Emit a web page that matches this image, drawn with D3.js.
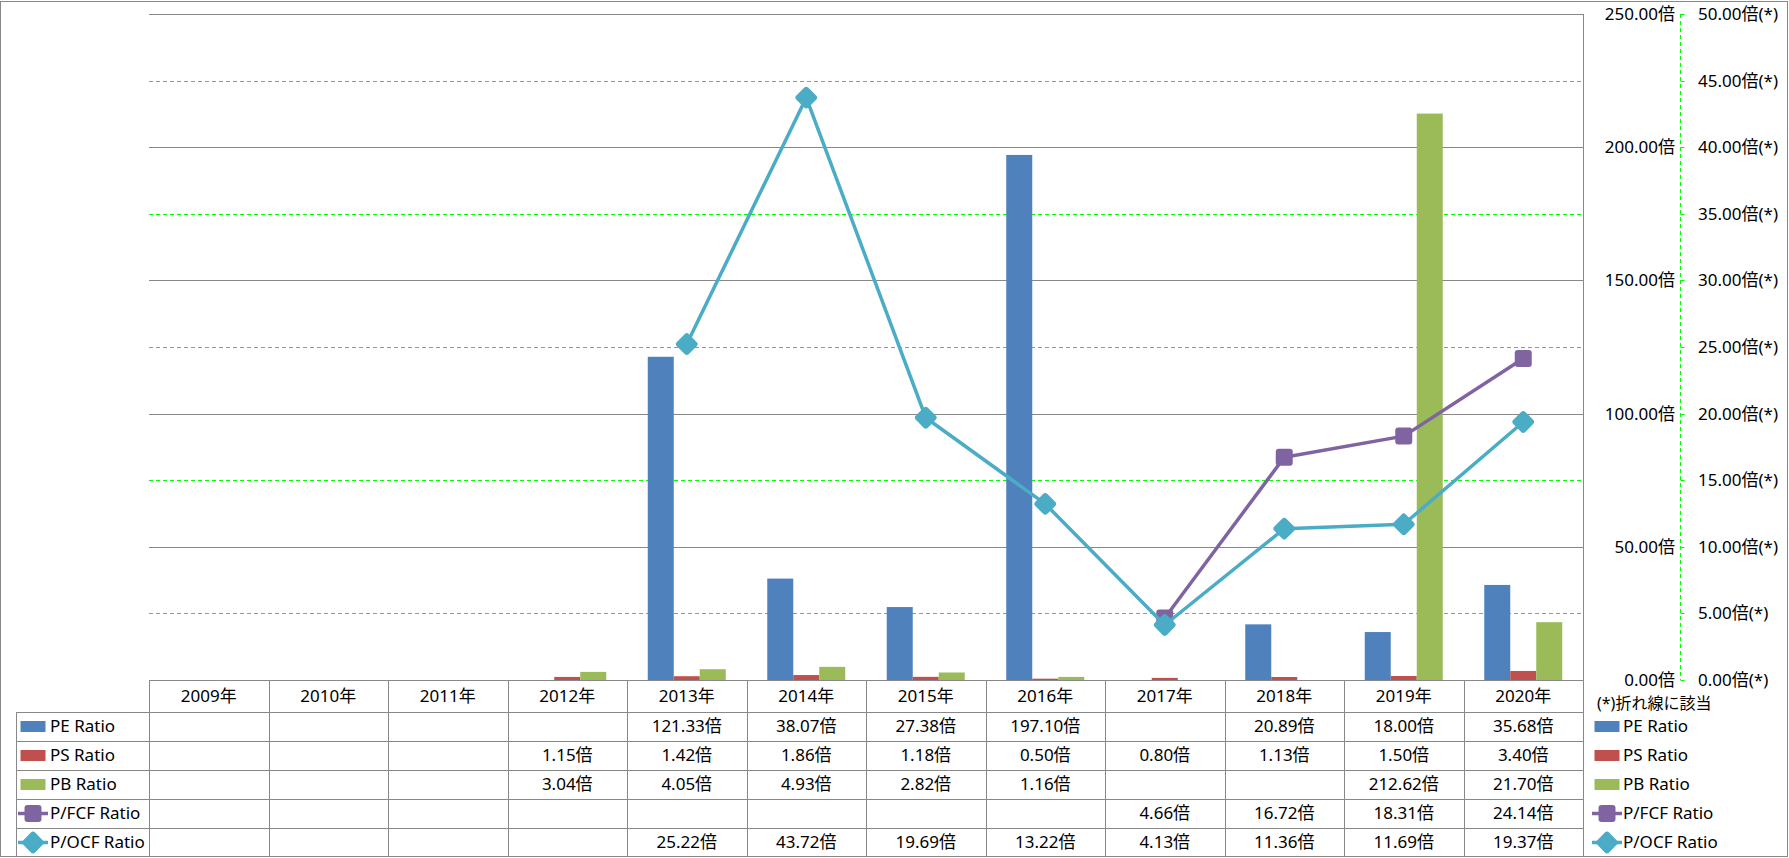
<!DOCTYPE html>
<html>
<head>
<meta charset="utf-8">
<script src="https://cdn.jsdelivr.net/npm/d3@7"></script>
<style>
  body { margin: 0; background: #fff; }
  svg { display: block; font-family: "Noto Sans", "Noto Sans CJK JP", sans-serif; }
</style>
</head>
<body>
<div id="viz"></div>
<script>
const years = ['2009年', '2010年', '2011年', '2012年', '2013年', '2014年', '2015年', '2016年', '2017年', '2018年', '2019年', '2020年'];
const peRatio = [null, null, null, null, 121.33, 38.07, 27.38, 197.10, null, 20.89, 18.00, 35.68];
const psRatio = [null, null, null, 1.15, 1.42, 1.86, 1.18, 0.50, 0.80, 1.13, 1.50, 3.40];
const pbRatio = [null, null, null, 3.04, 4.05, 4.93, 2.82, 1.16, null, null, 212.62, 21.70];
const pfcfRatio = [null, null, null, null, null, null, null, null, 4.66, 16.72, 18.31, 24.14];
const pocfRatio = [null, null, null, null, 25.22, 43.72, 19.69, 13.22, 4.13, 11.36, 11.69, 19.37];
const leftTicks = [0, 50, 100, 150, 200, 250];
const rightTicks = [0, 5, 10, 15, 20, 25, 30, 35, 40, 45, 50];

const barSeries = [
  {name: 'PE Ratio', values: peRatio, color: '#4F81BD'},
  {name: 'PS Ratio', values: psRatio, color: '#C0504D'},
  {name: 'PB Ratio', values: pbRatio, color: '#9BBB59'},
];
const lineSeries = [
  {name: 'P/FCF Ratio', values: pfcfRatio, color: '#8064A2', marker: 'square'},
  {name: 'P/OCF Ratio', values: pocfRatio, color: '#4BACC6', marker: 'diamond'},
];
const allSeries = barSeries.concat(lineSeries);

const dims = {
  width: 1789,
  height: 858,
  plotLeft: 149,
  plotRight: 1583,
  plotTop: 14,
  plotBottom: 680,
  headerH: 32,
  rowH: 29,
};
const gridColor = '#888888';
const fmt = d3.format('.2f');

const svg = d3.select('#viz').append('svg')
  .attr('width', dims.width)
  .attr('height', dims.height);

// scales
const x = d3.scaleBand().domain(years).range([dims.plotLeft, dims.plotRight]);
const xInner = d3.scaleBand().domain(barSeries.map(d => d.name))
  .range([x.bandwidth() / 2 - 39, x.bandwidth() / 2 + 39]);
const yL = d3.scaleLinear().domain([0, 250]).range([dims.plotBottom, dims.plotTop]);
const yR = d3.scaleLinear().domain([0, 50]).range([dims.plotBottom, dims.plotTop]);

// outer border
svg.append('rect')
  .attr('x', 0.5).attr('y', 1.5)
  .attr('width', dims.width - 2).attr('height', dims.height - 3)
  .attr('fill', 'none').attr('stroke', gridColor);

// gridlines: green dashed for secondary axis, grey for primary
svg.append('g').selectAll('line')
  .data(rightTicks.filter(d => d > 0))
  .join('line')
  .attr('x1', dims.plotLeft).attr('x2', dims.plotRight)
  .attr('y1', d => Math.round(yR(d)) + 0.5).attr('y2', d => Math.round(yR(d)) + 0.5)
  .attr('stroke', '#00FF00').attr('stroke-dasharray', '4,3');

svg.append('g').selectAll('line')
  .data(leftTicks)
  .join('line')
  .attr('x1', dims.plotLeft).attr('x2', dims.plotRight)
  .attr('y1', d => Math.round(yL(d)) + 0.5).attr('y2', d => Math.round(yL(d)) + 0.5)
  .attr('stroke', gridColor);

// bars
const barData = [];
barSeries.forEach(s => s.values.forEach((v, i) => {
  if (v != null) barData.push({series: s, year: years[i], value: v});
}));

svg.append('g').selectAll('rect')
  .data(barData)
  .join('rect')
  .attr('x', d => x(d.year) + xInner(d.series.name))
  .attr('width', xInner.bandwidth())
  .attr('y', d => yL(d.value))
  .attr('height', d => yL(0) - yL(d.value))
  .attr('fill', d => d.series.color);

// lines + markers
const lineGen = d3.line()
  .defined(d => d != null)
  .x((d, i) => x(years[i]) + x.bandwidth() / 2)
  .y(d => yR(d));

function drawMarker(g, type, color) {
  const r = g.append('rect')
    .attr('x', -8.5).attr('y', -8.5).attr('width', 17).attr('height', 17)
    .attr('rx', 3).attr('fill', color);
  if (type === 'diamond') r.attr('transform', 'rotate(45)');
}

lineSeries.forEach(s => {
  const g = svg.append('g');
  g.append('path')
    .attr('d', lineGen(s.values))
    .attr('fill', 'none')
    .attr('stroke', s.color)
    .attr('stroke-width', 3.5)
    .attr('stroke-linejoin', 'round');
  s.values.forEach((v, i) => {
    if (v == null) return;
    const m = g.append('g')
      .attr('transform', `translate(${x(years[i]) + x.bandwidth() / 2},${yR(v)})`);
    drawMarker(m, s.marker, s.color);
  });
});

// right side vertical edge of plot/table
svg.append('line')
  .attr('x1', dims.plotRight + 0.5).attr('x2', dims.plotRight + 0.5)
  .attr('y1', dims.plotTop).attr('y2', dims.height - 2)
  .attr('stroke', gridColor);

// primary axis labels (placed to the right of the plot)
svg.append('g').selectAll('text')
  .data(leftTicks)
  .join('text')
  .attr('x', 1675)
  .attr('y', d => yL(d))
  .attr('dy', '0.35em')
  .attr('text-anchor', 'end')
  .attr('font-size', 17)
  .text(d => fmt(d) + '倍');

// secondary axis
const axisX = 1680.5;
svg.append('line')
  .attr('x1', axisX).attr('x2', axisX)
  .attr('y1', dims.plotTop).attr('y2', dims.plotBottom)
  .attr('stroke', '#00FF00').attr('stroke-dasharray', '4,3');
svg.append('g').selectAll('line')
  .data(rightTicks)
  .join('line')
  .attr('x1', axisX).attr('x2', axisX + 4)
  .attr('y1', d => Math.round(yR(d)) + 0.5).attr('y2', d => Math.round(yR(d)) + 0.5)
  .attr('stroke', '#00FF00');
svg.append('g').selectAll('text')
  .data(rightTicks)
  .join('text')
  .attr('x', 1698)
  .attr('y', d => yR(d))
  .attr('dy', '0.35em')
  .attr('font-size', 17)
  .text(d => fmt(d) + '倍(*)');

svg.append('text')
  .attr('x', 1597).attr('y', 703)
  .attr('dy', '0.35em')
  .attr('font-size', 16)
  .text('(*)折れ線に該当');

// data table
const tableTop = dims.plotBottom;
const rowTop = i => tableTop + dims.headerH + i * dims.rowH;
const tableBottom = dims.height - 2;
const table = svg.append('g');

years.forEach(yr => {
  table.append('text')
    .attr('x', x(yr) + x.bandwidth() / 2)
    .attr('y', tableTop + dims.headerH / 2)
    .attr('dy', '0.35em')
    .attr('text-anchor', 'middle')
    .attr('font-size', 17)
    .text(yr);
});

// vertical table lines
table.selectAll('line.v')
  .data(years.concat(['end']))
  .join('line')
  .attr('class', 'v')
  .attr('x1', (d, i) => Math.round(dims.plotLeft + i * x.bandwidth()) + 0.5)
  .attr('x2', (d, i) => Math.round(dims.plotLeft + i * x.bandwidth()) + 0.5)
  .attr('y1', tableTop).attr('y2', tableBottom)
  .attr('stroke', gridColor);

table.append('line')
  .attr('x1', 16.5).attr('x2', 16.5)
  .attr('y1', rowTop(0)).attr('y2', tableBottom)
  .attr('stroke', gridColor);

table.selectAll('line.h')
  .data(allSeries)
  .join('line')
  .attr('class', 'h')
  .attr('x1', 16).attr('x2', dims.plotRight)
  .attr('y1', (d, i) => rowTop(i) + 0.5).attr('y2', (d, i) => rowTop(i) + 0.5)
  .attr('stroke', gridColor);

function legendKey(g, s) {
  if (s.marker) {
    g.append('line')
      .attr('x1', -15).attr('x2', 15)
      .attr('stroke', s.color).attr('stroke-width', 3.5);
    drawMarker(g, s.marker, s.color);
  } else {
    g.append('rect')
      .attr('x', -12.5).attr('y', -5.5).attr('width', 25).attr('height', 11)
      .attr('fill', s.color);
  }
}

allSeries.forEach((s, r) => {
  const cy = rowTop(r) + dims.rowH / 2;

  // left legend cell
  const lg = table.append('g').attr('transform', `translate(0,${cy})`);
  legendKey(lg.append('g').attr('transform', 'translate(33,0)'), s);
  lg.append('text')
    .attr('x', 50).attr('dy', '0.35em')
    .attr('font-size', 17)
    .text(s.name);

  // right legend
  const rg = table.append('g').attr('transform', `translate(0,${cy})`);
  legendKey(rg.append('g').attr('transform', 'translate(1607,0)'), s);
  rg.append('text')
    .attr('x', 1623).attr('dy', '0.35em')
    .attr('font-size', 17)
    .text(s.name);

  s.values.forEach((v, i) => {
    if (v == null) return;
    table.append('text')
      .attr('x', x(years[i]) + x.bandwidth() / 2)
      .attr('y', cy)
      .attr('dy', '0.35em')
      .attr('text-anchor', 'middle')
      .attr('font-size', 17)
      .text(fmt(v) + '倍');
  });
});
</script>
</body>
</html>
